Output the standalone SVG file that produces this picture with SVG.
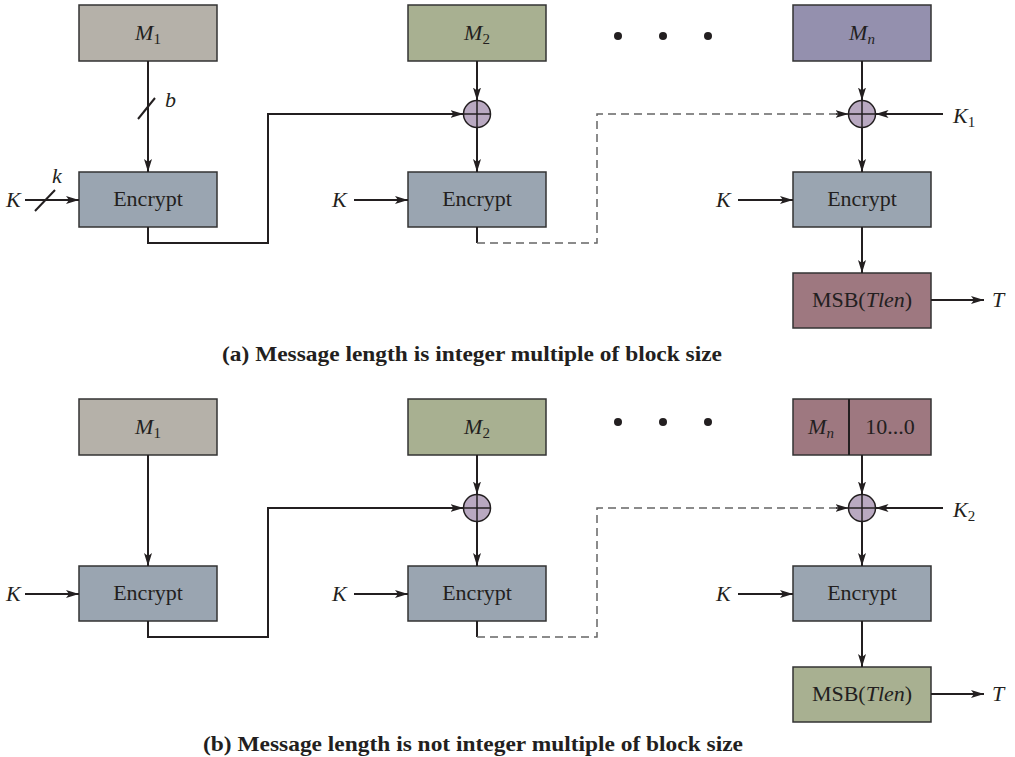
<svg xmlns="http://www.w3.org/2000/svg" width="1015" height="757" viewBox="0 0 1015 757">
<style>
.box{stroke:#333;stroke-width:1.5}
.enc{fill:#9aa5b1}
.m1{fill:#b5b1a9}
.grn{fill:#a8b091}
.pur{fill:#9490ae}
.red{fill:#9e7880}
.t{font-family:"Liberation Serif",serif;font-size:22px;fill:#231f20}
.i{font-style:italic}
.sub{font-size:15px}
.cap{font-family:"Liberation Serif",serif;font-size:22px;font-weight:bold;fill:#231f20}
.ln{stroke:#231f20;stroke-width:2;fill:none}
.dash{stroke:#666;stroke-width:1.5;fill:none;stroke-dasharray:8 5}
.xor{fill:#b9a9c1;stroke:#231f20;stroke-width:1.5}
</style>
<defs>
<marker id="ah" markerUnits="userSpaceOnUse" markerWidth="14" markerHeight="10" refX="13" refY="4" orient="auto">
<path d="M0,0 L13,4 L0,8 L3,4 z" fill="#231f20"/>
</marker>
</defs>
<rect width="1015" height="757" fill="#fff"/>

<!-- Part (a) -->
<g id="a-m1"><rect class="box m1" x="79" y="5" width="138" height="56"/><text class="t i" x="148" y="40" text-anchor="middle">M<tspan class="sub" font-style="normal" dy="4">1</tspan></text></g>
<g id="a-m2"><rect class="box grn" x="408" y="5" width="138" height="56"/><text class="t i" x="477" y="40" text-anchor="middle">M<tspan class="sub" font-style="normal" dy="4">2</tspan></text></g>
<g id="a-mn"><rect class="box pur" x="793" y="5" width="138" height="56"/><text class="t i" x="862" y="40" text-anchor="middle">M<tspan class="sub" dy="4">n</tspan></text></g>
<g id="a-dots" fill="#231f20"><circle cx="618" cy="36" r="4"/><circle cx="663" cy="36" r="4"/><circle cx="708" cy="36" r="4"/></g>
<g id="a-enc1"><rect class="box enc" x="79" y="172" width="138" height="55"/><text class="t" x="148" y="206" text-anchor="middle">Encrypt</text></g>
<g id="a-enc2"><rect class="box enc" x="408" y="172" width="138" height="55"/><text class="t" x="477" y="206" text-anchor="middle">Encrypt</text></g>
<g id="a-enc3"><rect class="box enc" x="793" y="172" width="138" height="55"/><text class="t" x="862" y="206" text-anchor="middle">Encrypt</text></g>
<g id="a-msb"><rect class="box red" x="793" y="273" width="138" height="55"/><text class="t" x="862" y="307" text-anchor="middle">MSB(<tspan class="i">Tlen</tspan>)</text></g>
<g id="a-xor2"><circle class="xor" cx="477" cy="114" r="13.5"/><path class="ln" style="stroke-width:1.5" d="M463.5,114 H490.5 M477,100.5 V127.5"/></g>
<g id="a-xorn"><circle class="xor" cx="862" cy="114" r="13.5"/><path class="ln" style="stroke-width:1.5" d="M848.5,114 H875.5 M862,100.5 V127.5"/></g>
<g id="a-labels">
<text class="t i" x="6" y="207">K</text>
<text class="t i" x="52" y="183">k</text>
<text class="t i" x="165" y="107">b</text>
<text class="t i" x="332" y="207">K</text>
<text class="t i" x="716" y="207">K</text>
<text class="t i" x="953" y="123">K<tspan class="sub" font-style="normal" dy="4">1</tspan></text>
<text class="t i" x="992" y="307">T</text>
</g>
<g id="a-connectors">
<line class="ln" x1="148" y1="61" x2="148" y2="172" marker-end="url(#ah)"/>
<line class="ln" x1="138" y1="119" x2="155" y2="98"/>
<line class="ln" x1="25" y1="200" x2="79" y2="200" marker-end="url(#ah)"/>
<line class="ln" x1="35" y1="211" x2="55" y2="190"/>
<polyline class="ln" points="148,227 148,243 268,243 268,114 463.5,114" marker-end="url(#ah)"/>
<line class="ln" x1="477" y1="61" x2="477" y2="100.5" marker-end="url(#ah)"/>
<line class="ln" x1="477" y1="127.5" x2="477" y2="172" marker-end="url(#ah)"/>
<line class="ln" x1="354" y1="200" x2="408" y2="200" marker-end="url(#ah)"/>
<line class="ln" x1="477" y1="227" x2="477" y2="243"/>
<polyline class="dash" points="477,243 597,243 597,114 846,114"/>
<line class="ln" style="stroke-width:1.5" x1="836" y1="114" x2="848.5" y2="114" marker-end="url(#ah)"/>
<line class="ln" x1="862" y1="61" x2="862" y2="100.5" marker-end="url(#ah)"/>
<line class="ln" x1="943" y1="114" x2="875.5" y2="114" marker-end="url(#ah)"/>
<line class="ln" x1="862" y1="127.5" x2="862" y2="172" marker-end="url(#ah)"/>
<line class="ln" x1="738" y1="200" x2="793" y2="200" marker-end="url(#ah)"/>
<line class="ln" x1="862" y1="227" x2="862" y2="273" marker-end="url(#ah)"/>
<line class="ln" x1="931" y1="300" x2="984" y2="300" marker-end="url(#ah)"/>
</g>
<text class="cap" x="222" y="361" textLength="500" lengthAdjust="spacingAndGlyphs">(a) Message length is integer multiple of block size</text>

<!-- Part (b) -->
<g id="b-m1"><rect class="box m1" x="79" y="399" width="138" height="56"/><text class="t i" x="148" y="434" text-anchor="middle">M<tspan class="sub" font-style="normal" dy="4">1</tspan></text></g>
<g id="b-m2"><rect class="box grn" x="408" y="399" width="138" height="56"/><text class="t i" x="477" y="434" text-anchor="middle">M<tspan class="sub" font-style="normal" dy="4">2</tspan></text></g>
<g id="b-mn"><rect class="box red" x="793" y="399" width="138" height="56"/><line class="ln" x1="849" y1="399" x2="849" y2="455"/><text class="t i" x="821" y="434" text-anchor="middle">M<tspan class="sub" dy="4">n</tspan></text><text class="t" x="890" y="434" text-anchor="middle">10...0</text></g>
<g id="b-dots" fill="#231f20"><circle cx="618" cy="422" r="4"/><circle cx="663" cy="422" r="4"/><circle cx="708" cy="422" r="4"/></g>
<g id="b-enc1"><rect class="box enc" x="79" y="566" width="138" height="55"/><text class="t" x="148" y="600" text-anchor="middle">Encrypt</text></g>
<g id="b-enc2"><rect class="box enc" x="408" y="566" width="138" height="55"/><text class="t" x="477" y="600" text-anchor="middle">Encrypt</text></g>
<g id="b-enc3"><rect class="box enc" x="793" y="566" width="138" height="55"/><text class="t" x="862" y="600" text-anchor="middle">Encrypt</text></g>
<g id="b-msb"><rect class="box grn" x="793" y="667" width="138" height="55"/><text class="t" x="862" y="701" text-anchor="middle">MSB(<tspan class="i">Tlen</tspan>)</text></g>
<g id="b-xor2"><circle class="xor" cx="477" cy="508" r="13.5"/><path class="ln" style="stroke-width:1.5" d="M463.5,508 H490.5 M477,494.5 V521.5"/></g>
<g id="b-xorn"><circle class="xor" cx="862" cy="508" r="13.5"/><path class="ln" style="stroke-width:1.5" d="M848.5,508 H875.5 M862,494.5 V521.5"/></g>
<g id="b-labels">
<text class="t i" x="6" y="601">K</text>
<text class="t i" x="332" y="601">K</text>
<text class="t i" x="716" y="601">K</text>
<text class="t i" x="953" y="517">K<tspan class="sub" font-style="normal" dy="4">2</tspan></text>
<text class="t i" x="992" y="701">T</text>
</g>
<g id="b-connectors">
<line class="ln" x1="148" y1="455" x2="148" y2="566" marker-end="url(#ah)"/>
<line class="ln" x1="25" y1="594" x2="79" y2="594" marker-end="url(#ah)"/>
<polyline class="ln" points="148,621 148,637 268,637 268,508 463.5,508" marker-end="url(#ah)"/>
<line class="ln" x1="477" y1="455" x2="477" y2="494.5" marker-end="url(#ah)"/>
<line class="ln" x1="477" y1="521.5" x2="477" y2="566" marker-end="url(#ah)"/>
<line class="ln" x1="354" y1="594" x2="408" y2="594" marker-end="url(#ah)"/>
<line class="ln" x1="477" y1="621" x2="477" y2="637"/>
<polyline class="dash" points="477,637 597,637 597,508 846,508"/>
<line class="ln" style="stroke-width:1.5" x1="836" y1="508" x2="848.5" y2="508" marker-end="url(#ah)"/>
<line class="ln" x1="862" y1="455" x2="862" y2="494.5" marker-end="url(#ah)"/>
<line class="ln" x1="943" y1="508" x2="875.5" y2="508" marker-end="url(#ah)"/>
<line class="ln" x1="862" y1="521.5" x2="862" y2="566" marker-end="url(#ah)"/>
<line class="ln" x1="738" y1="594" x2="793" y2="594" marker-end="url(#ah)"/>
<line class="ln" x1="862" y1="621" x2="862" y2="667" marker-end="url(#ah)"/>
<line class="ln" x1="931" y1="694" x2="984" y2="694" marker-end="url(#ah)"/>
</g>
<text class="cap" x="203" y="751" textLength="540" lengthAdjust="spacingAndGlyphs">(b) Message length is not integer multiple of block size</text>
</svg>
